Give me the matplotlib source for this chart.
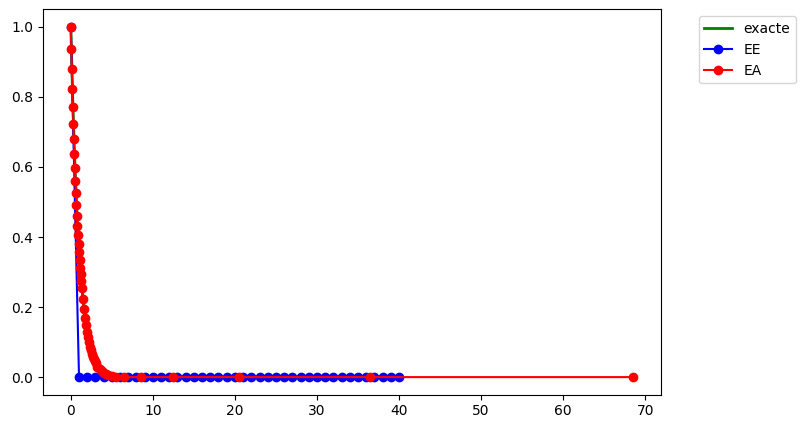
import matplotlib
matplotlib.use("Agg")
import matplotlib.pyplot as plt

# exact solution (sampled)
t_exact = [0, 0.25, 0.5, 0.75, 1.0, 1.5, 2.0, 3.0, 4.0, 5.0, 6.0, 8.0, 10.0, 20.0, 40.0]
y_exact = [1.0, 0.779, 0.607, 0.472, 0.368, 0.223, 0.135, 0.050, 0.018, 0.0067, 0.0025, 0.0003, 0.0, 0.0, 0.0]

# explicit Euler, step 1
t_ee = [0, 1, 2, 3, 4, 5, 6, 7, 8, 9, 10, 11, 12, 13, 14, 15, 16, 17, 18, 19, 20,
        21, 22, 23, 24, 25, 26, 27, 28, 29, 30, 31, 32, 33, 34, 35, 36, 37, 38, 39, 40]
y_ee = [1.0, 0, 0, 0, 0, 0, 0, 0, 0, 0, 0, 0, 0, 0, 0, 0, 0, 0, 0, 0, 0,
        0, 0, 0, 0, 0, 0, 0, 0, 0, 0, 0, 0, 0, 0, 0, 0, 0, 0, 0, 0]

# adaptive Euler
t_ea = [0, 0.0625, 0.125, 0.1875, 0.25, 0.3125, 0.375, 0.4375, 0.5, 0.5625, 0.625,
        0.6875, 0.75, 0.8125, 0.875, 0.9375, 1.0, 1.0625, 1.125, 1.1875, 1.25, 1.3125,
        1.4375, 1.5625, 1.6875, 1.8125, 1.9375, 2.0625, 2.1875, 2.3125, 2.4375, 2.5625,
        2.6875, 2.8125, 2.9375, 3.0625, 3.25, 3.5, 3.75, 4.0, 4.25, 4.5, 5.0, 5.5,
        6.5, 8.5, 12.5, 20.5, 36.5, 68.5]
y_ea = [1.0, 0.9375, 0.8789, 0.824, 0.7725, 0.7242, 0.6789, 0.6365, 0.5967, 0.5594, 0.5245,
        0.4917, 0.461, 0.4322, 0.4052, 0.3799, 0.3561, 0.3339, 0.313, 0.2934, 0.2751, 0.2537,
        0.222, 0.1942, 0.170, 0.1487, 0.1301, 0.1138, 0.0996, 0.0872, 0.0763, 0.0667,
        0.0584, 0.0511, 0.0447, 0.0391, 0.0293, 0.022, 0.0165, 0.0124, 0.0093, 0.007, 0.0035, 0.0017,
        0.0, 0.0, 0.0, 0.0, 0.0, 0.0]

fig = plt.figure(figsize=(8.06, 4.28), dpi=100)
plt.subplots_adjust(left=0.053, right=0.82, top=0.978, bottom=0.078)
plt.plot(t_exact, y_exact, color='green', linewidth=2, label='exacte')
plt.plot(t_ee, y_ee, 'bo-', label='EE')
plt.plot(t_ea, y_ea, 'ro-', label='EA')
plt.legend(bbox_to_anchor=(1.05, 1), loc='upper left')
plt.savefig("out.png")
